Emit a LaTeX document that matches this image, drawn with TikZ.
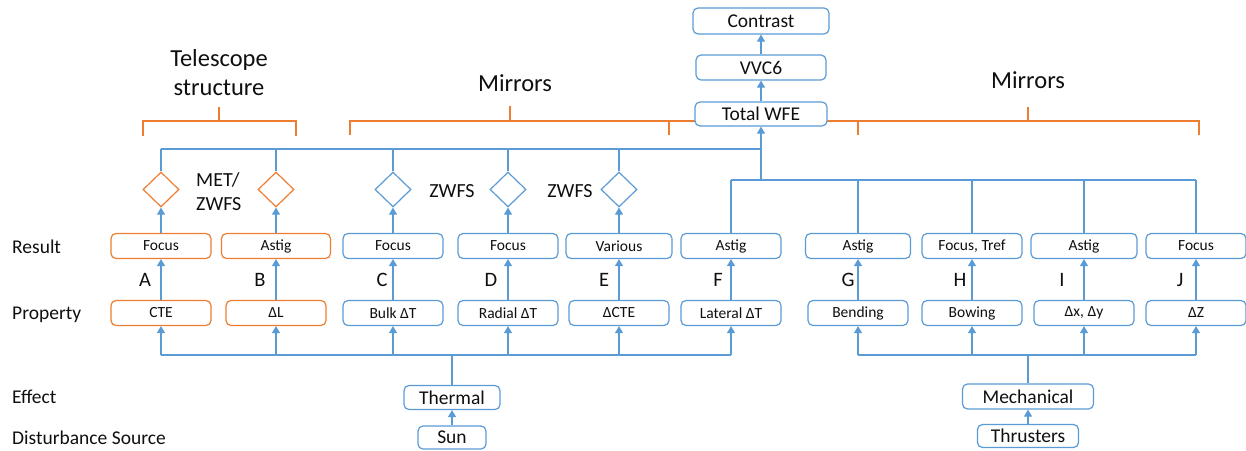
\documentclass[tikz,border=0pt]{standalone}
\usepackage{fontspec}
\setmainfont{Carlito}
\usepackage{xcolor}
\usepackage{tikz}
\usetikzlibrary{shapes.geometric, arrows.meta, positioning}
\definecolor{OptBlue}{RGB}{91, 155, 213}
\definecolor{OptOrange}{RGB}{237, 125, 49}
\definecolor{OptInk}{RGB}{15, 15, 15}

\tikzset{
  smallbox/.style={draw=OptBlue, fill=white, line width=1.2pt, rounded corners=5pt,
    minimum width=100pt, minimum height=25pt, inner sep=0pt, text=OptInk,
    font=\fontsize{15.5}{18}\selectfont},
  bigbox/.style={smallbox, minimum height=25pt, font=\fontsize{19.5}{22}\selectfont},
  gauge/.style={diamond, draw=OptBlue, fill=white, line width=1.2pt, inner sep=0pt,
    minimum width=36pt, minimum height=35pt},
  feed/.style={OptBlue, line width=1.2pt, -{Triangle[width=8pt,length=7pt]}},
  wire/.style={OptBlue, line width=1.2pt},
  bracket/.style={OptOrange, line width=1.2pt},
  rowlabel/.style={anchor=west, text=OptInk, inner sep=0pt, font=\fontsize{19.5}{22}\selectfont},
  heading/.style={text=OptInk, inner sep=0pt, font=\fontsize{24.5}{29}\selectfont},
  tag/.style={text=OptInk, inner sep=0pt, font=\fontsize{20.5}{24}\selectfont},
}

\begin{document}
\begin{tikzpicture}[x=1pt,y=-1pt]
  \path[use as bounding box] (0,0) rectangle (1246,450);

  % Bus heights
  \coordinate (topbus) at (0,149);
  \coordinate (rightbus) at (0,180);
  \coordinate (gaugerow) at (0,189.5);
  \coordinate (propbus) at (0,355);

  % Orange brackets
  \draw[bracket] (143,136) -- (143,121) -- (296,121) -- (296,136);
  \draw[bracket] (219,121) -- (219,107);
  \draw[bracket] (350,135) -- (350,121) -- (669,121) -- (669,135);
  \draw[bracket] (510,121) -- (510,106);
  \draw[bracket] (669,121) -- (858,121);
  \draw[bracket] (858,135) -- (858,121) -- (1199,121) -- (1199,135);
  \draw[bracket] (1028,121) -- (1028,107);

  % Group headings
  \node[heading, align=center] (title-scope) at (219,73) {Telescope\\structure};
  \node[heading] (title-mirrors-l) at (515,83) {Mirrors};
  \node[heading] (title-mirrors-r) at (1028,80) {Mirrors};

  % Row labels
  \node[rowlabel] (row-result) at (12,247) {Result};
  \node[rowlabel] (row-property) at (12,315) {Property};
  \node[rowlabel] (row-effect) at (12,397) {Effect};
  \node[rowlabel] (row-source) at (12,438) {Disturbance Source};

  % Output chain
  \node[bigbox, minimum width=132pt, minimum height=24pt] (wfe) at (761,114) {Total WFE};
  \node[bigbox, minimum width=130pt] (vvc) at (761,67.5) {VVC6};
  \node[bigbox, minimum width=136pt, minimum height=26pt] (contrast) at (761,21) {Contrast};
  \draw[feed] (wfe) -- (vvc);
  \draw[feed] (vvc) -- (contrast);

  % Disturbances
  \node[bigbox, minimum width=96pt, minimum height=24pt] (thermal) at (452,397.5) {Thermal};
  \node[bigbox, minimum width=68pt, minimum height=23pt] (sun) at (452,437.5) {Sun};
  \node[bigbox, minimum width=131pt] (mech) at (1028,396.5) {Mechanical};
  \node[bigbox, minimum width=101pt, minimum height=23pt] (thrusters) at (1028,436) {Thrusters};
  \draw[feed] (sun) -- (thermal);
  \draw[feed] (thrusters) -- (mech);

  % Columns A-J
  \foreach \c/\x/\col/\res/\rw/\prop/\lx in {
    A/161/OptOrange/Focus/100/CTE/145,
    B/276/OptOrange/Astig/109/ΔL/260,
    C/393/OptBlue/Focus/100/Bulk ΔT/382,
    D/508/OptBlue/Focus/100/Radial ΔT/491,
    E/619/OptBlue/Various/106/ΔCTE/604,
    F/731/OptBlue/Astig/100/Lateral ΔT/718,
    G/858/OptBlue/Astig/105/Bending/848,
    H/972/OptBlue/{Focus, Tref}/100/Bowing/960,
    I/1084/OptBlue/Astig/106/{Δx, Δy}/1062,
    J/1196/OptBlue/Focus/100/ΔZ/1180}{
    \node[smallbox, draw=\col, minimum width=\rw pt] (res-\c) at (\x,246) {\res};
    \node[smallbox, draw=\col] (prop-\c) at (\x,313) {\prop};
    \node[tag] (tag-\c) at (\lx,280) {\c};
    \draw[feed] (prop-\c) -- (res-\c);
    \draw[feed] (prop-\c.south |- propbus) -- (prop-\c);
  }

  % Sensors
  \foreach \c/\col in {A/OptOrange, B/OptOrange, C/OptBlue, D/OptBlue, E/OptBlue}{
    \node[gauge, draw=\col] (gauge-\c) at (res-\c.north |- gaugerow) {};
    \draw[feed] (res-\c) -- (gauge-\c);
    \draw[wire] (gauge-\c) -- (gauge-\c.north |- topbus);
  }
  \node[tag, anchor=west, align=left, font=\fontsize{20}{24}\selectfont] (lbl-met) at (196,192) {MET/\\ZWFS};
  \node[tag, font=\fontsize{20}{24}\selectfont] (lbl-zwfs-d) at (452,191) {ZWFS};
  \node[tag, font=\fontsize{20}{24}\selectfont] (lbl-zwfs-e) at (570,191) {ZWFS};

  % Summing buses to Total WFE
  \draw[wire] (gauge-A.north |- topbus) -- (wfe.south |- topbus);
  \draw[wire] (res-F.north |- rightbus) -- (res-J.north |- rightbus);
  \foreach \c in {F,G,H,I,J}{
    \draw[wire] (res-\c) -- (res-\c.north |- rightbus);
  }
  \draw[feed] (wfe.south |- rightbus) -- (wfe);

  % Disturbance buses
  \draw[wire] (prop-A.south |- propbus) -- (prop-F.south |- propbus);
  \draw[wire] (thermal) -- (thermal.north |- propbus);
  \draw[wire] (prop-G.south |- propbus) -- (prop-J.south |- propbus);
  \draw[wire] (mech) -- (mech.north |- propbus);
\end{tikzpicture}
\end{document}
